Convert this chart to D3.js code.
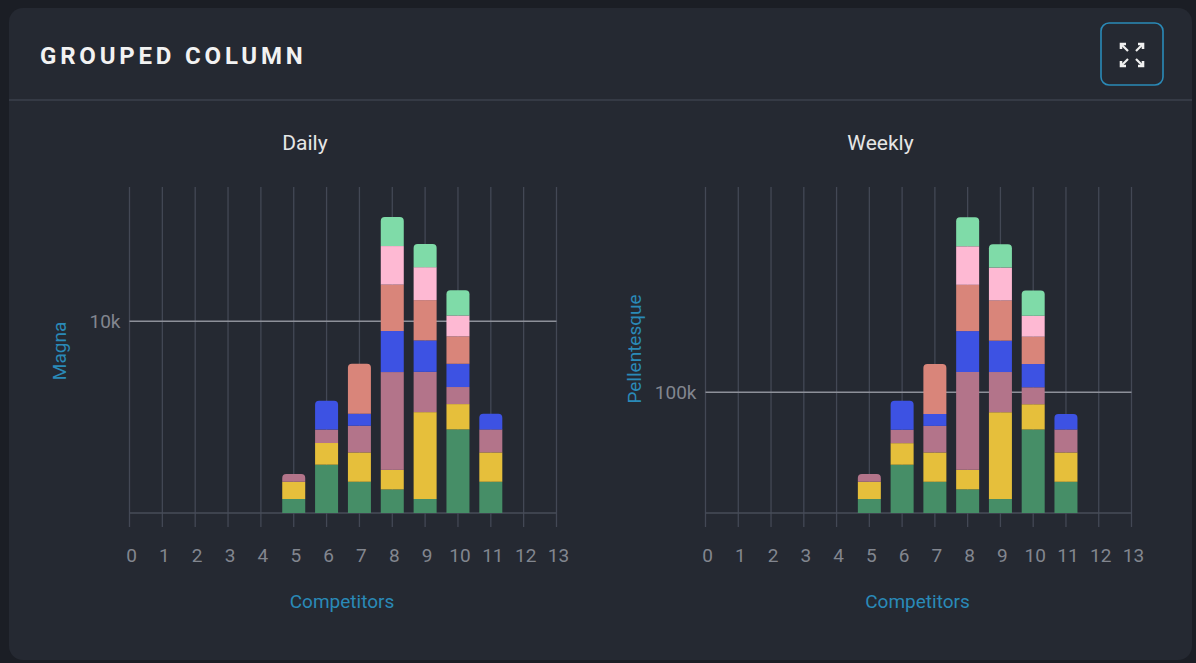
<!DOCTYPE html>
<html>
<head>
<meta charset="utf-8">
<script src="https://cdn.jsdelivr.net/npm/d3@7"></script>
<style>
  html, body { margin: 0; padding: 0; background: #1b1e25; }
  body { width: 1196px; height: 663px; overflow: hidden; font-family: Roboto, "Noto Sans", sans-serif; }
</style>
</head>
<body>
<script>
// categories (competitor count on x)
let competitors = [5, 6, 7, 8, 9, 10, 11]
let xTicks = d3.range(0, 14)

let seriesNames = ['s1', 's2', 's3', 's4', 's5', 's6', 's7']
let seriesColors = ['#468e67', '#e6bf3b', '#b3748a', '#3d52e3', '#d9857a', '#feb9d3', '#7fdba8']

// Daily values, bottom to top
let daily1 = [730, 2520, 1630, 1230, 730, 4360, 1630]
let daily2 = [900, 1130, 1530, 1020, 4530, 1320, 1530]
let daily3 = [400, 700, 1390, 5100, 2100, 890, 1200]
let daily4 = [0, 1510, 630, 2140, 1640, 1210, 810]
let daily5 = [0, 0, 2600, 2420, 2100, 1430, 0]
let daily6 = [0, 0, 0, 2010, 1720, 1090, 0]
let daily7 = [0, 0, 0, 1510, 1210, 1320, 0]

// Weekly values, bottom to top
let weekly1 = [11570, 40000, 25870, 19590, 11570, 69170, 25870]
let weekly2 = [14300, 17850, 24300, 16200, 71900, 20910, 24300]
let weekly3 = [6360, 11070, 21980, 80990, 33300, 14050, 19010]
let weekly4 = [0, 23970, 9920, 33880, 25950, 19260, 12890]
let weekly5 = [0, 0, 41320, 38340, 33300, 22640, 0]
let weekly6 = [0, 0, 0, 31900, 27270, 17350, 0]
let weekly7 = [0, 0, 0, 23970, 19260, 20910, 0]

let dailyTicks = [10000]
let weeklyTicks = [100000]

let width = 1196
let height = 663

let svg = d3.select('body').append('svg')
    .attr('width', width)
    .attr('height', height)

// card
svg.append('rect')
    .attr('x', 9).attr('y', 8)
    .attr('width', 1183).attr('height', 652)
    .attr('rx', 14)
    .attr('fill', '#252932')

svg.append('line')
    .attr('x1', 9).attr('x2', 1192)
    .attr('y1', 100).attr('y2', 100)
    .attr('stroke', '#3b404c')
    .attr('stroke-width', 1.5)

svg.append('text')
    .attr('x', 40).attr('y', 64)
    .attr('fill', '#f2f2f2')
    .attr('font-size', 24)
    .attr('font-weight', 700)
    .attr('letter-spacing', 3.8)
    .text('GROUPED COLUMN')

// expand button
let btn = svg.append('g')
btn.append('rect')
    .attr('x', 1101).attr('y', 23)
    .attr('width', 62).attr('height', 62)
    .attr('rx', 8)
    .attr('fill', 'none')
    .attr('stroke', '#2a8ab8')
    .attr('stroke-width', 1.6)

let cx = 1132, cy = 55
;[[-1, -1], [1, -1], [-1, 1], [1, 1]].forEach(d => {
    let sx = d[0], sy = d[1]
    let tipX = cx + sx * 11, tipY = cy + sy * 11
    btn.append('line')
        .attr('x1', cx + sx * 4).attr('y1', cy + sy * 4)
        .attr('x2', tipX).attr('y2', tipY)
        .attr('stroke', '#f0f0f0').attr('stroke-width', 2.2)
    btn.append('path')
        .attr('d', 'M' + (tipX - sx * 5) + ',' + tipY + 'L' + tipX + ',' + tipY + 'L' + tipX + ',' + (tipY - sy * 5))
        .attr('fill', 'none')
        .attr('stroke', '#f0f0f0').attr('stroke-width', 2.6)
})

function drawPanel(opts) {
    let x = d3.scaleLinear().domain([0, 13]).range([opts.x0, opts.x1])
    let y = d3.scaleLinear().domain([0, opts.yMax]).range([513, 187])

    let g = svg.append('g')

    g.append('text')
        .attr('x', (opts.x0 + opts.x1) / 2 - 38).attr('y', 150)
        .attr('text-anchor', 'middle')
        .attr('fill', '#e6e6e6')
        .attr('font-size', 21)
        .text(opts.title)

    // vertical grid with ticks below baseline
    g.selectAll('.vgrid')
        .data(xTicks)
        .enter().append('line')
        .attr('class', 'vgrid')
        .attr('x1', d => x(d)).attr('x2', d => x(d))
        .attr('y1', 187).attr('y2', 527)
        .attr('stroke', '#434855')
        .attr('stroke-width', 1.3)

    g.append('line')
        .attr('x1', opts.x0).attr('x2', opts.x1)
        .attr('y1', y(0)).attr('y2', y(0))
        .attr('stroke', '#474c58')
        .attr('stroke-width', 1.3)

    g.selectAll('.hgrid')
        .data(opts.yTicks)
        .enter().append('line')
        .attr('class', 'hgrid')
        .attr('x1', opts.x0).attr('x2', opts.x1)
        .attr('y1', d => y(d)).attr('y2', d => y(d))
        .attr('stroke', '#8d9099')
        .attr('stroke-width', 1.3)

    g.selectAll('.ytick')
        .data(opts.yTicks)
        .enter().append('text')
        .attr('class', 'ytick')
        .attr('x', opts.x0 - 9).attr('y', d => y(d))
        .attr('dy', '0.35em')
        .attr('text-anchor', 'end')
        .attr('fill', '#82868f')
        .attr('font-size', 19)
        .text(d => d3.format('~s')(d))

    g.selectAll('.xtick')
        .data(xTicks)
        .enter().append('text')
        .attr('class', 'xtick')
        .attr('x', d => x(d) + 2).attr('y', 555)
        .attr('dy', '0.35em')
        .attr('text-anchor', 'middle')
        .attr('fill', '#82868f')
        .attr('font-size', 19)
        .text(d => d)

    g.append('text')
        .attr('x', (opts.x0 + opts.x1) / 2 - 1).attr('y', 608)
        .attr('text-anchor', 'middle')
        .attr('fill', '#2a8ab8')
        .attr('font-size', 19)
        .text('Competitors')

    g.append('text')
        .attr('transform', 'translate(' + opts.labelX + ',' + opts.labelY + ') rotate(-90)')
        .attr('text-anchor', 'middle')
        .attr('fill', '#2a8ab8')
        .attr('font-size', 19)
        .text(opts.yLabel)

    // stacked bars
    let rows = competitors.map((c, i) => {
        let row = { c: c }
        seriesNames.forEach((s, k) => { row[s] = opts.series[k][i] })
        return row
    })
    let stack = d3.stack().keys(seriesNames)(rows)
    let bw = 23
    let r = 4

    rows.forEach((row, i) => {
        let top = -1
        stack.forEach((layer, k) => { if (layer[i][1] > layer[i][0]) top = k })
        stack.forEach((layer, k) => {
            let v0 = layer[i][0], v1 = layer[i][1]
            if (v1 <= v0) return
            let bx = x(row.c) - bw / 2
            let y0 = y(v0), y1 = y(v1)
            if (k === top) {
                g.append('path')
                    .attr('d', 'M' + bx + ',' + y0 +
                        'L' + bx + ',' + (y1 + r) +
                        'Q' + bx + ',' + y1 + ' ' + (bx + r) + ',' + y1 +
                        'L' + (bx + bw - r) + ',' + y1 +
                        'Q' + (bx + bw) + ',' + y1 + ' ' + (bx + bw) + ',' + (y1 + r) +
                        'L' + (bx + bw) + ',' + y0 + 'Z')
                    .attr('fill', seriesColors[k])
            } else {
                g.append('rect')
                    .attr('x', bx).attr('y', y1)
                    .attr('width', bw).attr('height', y0 - y1)
                    .attr('fill', seriesColors[k])
            }
        })
    })
}

drawPanel({
    title: 'Daily', x0: 129.5, x1: 556.5, yMax: 17000, yTicks: dailyTicks,
    yLabel: 'Magna', labelX: 66, labelY: 351,
    series: [daily1, daily2, daily3, daily4, daily5, daily6, daily7]
})

drawPanel({
    title: 'Weekly', x0: 705.5, x1: 1131.5, yMax: 270000, yTicks: weeklyTicks,
    yLabel: 'Pellentesque', labelX: 641, labelY: 349,
    series: [weekly1, weekly2, weekly3, weekly4, weekly5, weekly6, weekly7]
})
</script>
</body>
</html>
